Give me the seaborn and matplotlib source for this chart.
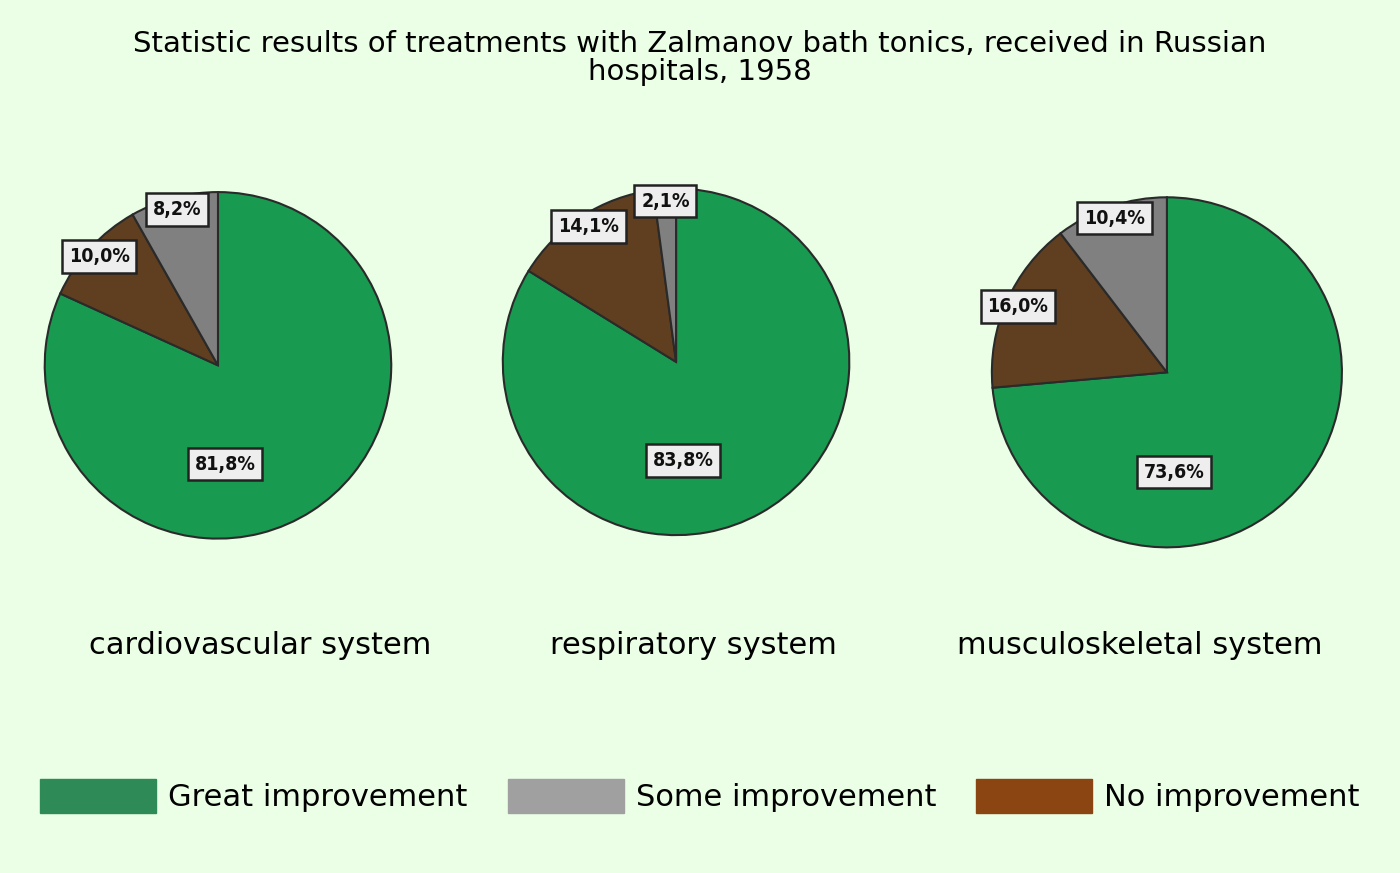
import matplotlib
matplotlib.use("Agg")
import matplotlib.pyplot as plt
from matplotlib.patches import Patch
import numpy as np
import seaborn as sns

sns.set_theme(style="white")
plt.rcParams['font.family'] = ['DejaVu Sans']

categories = ["cardiovascular system", "respiratory system", "musculoskeletal system"]
series = ["Great improvement", "No improvement", "Some improvement"]
great = [81.8, 83.8, 73.6]
noimp = [10.0, 14.1, 16.0]
some = [8.2, 2.1, 10.4]
labels = [["81,8%", "10,0%", "8,2%"], ["83,8%", "14,1%", "2,1%"], ["73,6%", "16,0%", "10,4%"]]

bg = "#EAFFE6"
pie_colors = ["#189A50", "#603F20", "#808080"]
fig = plt.figure(figsize=(14, 8.73), dpi=100, facecolor=bg)

axes_rects = [[0.0307, 0.381, 0.25, 0.401], [0.3579, 0.385, 0.25, 0.401], [0.707, 0.371, 0.253, 0.405]]
title_x = [260, 693, 1140]
for i, rect in enumerate(axes_rects):
    ax = fig.add_axes(rect)
    ax.set_facecolor(bg)
    vals = [great[i], noimp[i], some[i]]
    wedges, _ = ax.pie(vals, colors=pie_colors, startangle=90, counterclock=False,
                       wedgeprops=dict(edgecolor="#2a2a2a", linewidth=1.5))
    for j, w in enumerate(wedges):
        ang = np.deg2rad((w.theta1 + w.theta2) / 2)
        if j == 0:
            x, y = 0.04, -0.57
        else:
            x, y = 0.93 * np.cos(ang), 0.93 * np.sin(ang)
        ax.text(x, y, labels[i][j], ha="center", va="center",
                fontsize=14, fontweight="bold", color="#111111", fontstretch="condensed",
                bbox=dict(boxstyle="square,pad=0.35", fc="#EEEEEE", ec="#222222", lw=1.8))
    ax.set_xlim(-1.01, 1.01)
    ax.set_ylim(-1.01, 1.01)
    ax.set_aspect("equal")
    ax.axis("off")
    fig.text(title_x[i] / 1400, 1 - 645 / 873, categories[i], ha="center", va="center",
             fontsize=22, color="black")

fig.text(0.5, 1 - 58 / 873, "Statistic results of treatments with Zalmanov bath tonics, received in Russian\nhospitals, 1958",
         ha="center", va="center", fontsize=21, linespacing=1.0, color="black")

handles = [Patch(color="#2E8B57", label="Great improvement"),
           Patch(color="#A0A0A0", label="Some improvement"),
           Patch(color="#8B4513", label="No improvement")]
fig.legend(handles=handles, loc="center", bbox_to_anchor=(0.5, 1 - 796 / 873), ncol=3,
           frameon=False, fontsize=22, handlelength=3.8, handleheight=1.3, columnspacing=1.3,
           handletextpad=0.4, labelcolor="black")

fig.savefig("out.png", dpi=100, facecolor=bg)
